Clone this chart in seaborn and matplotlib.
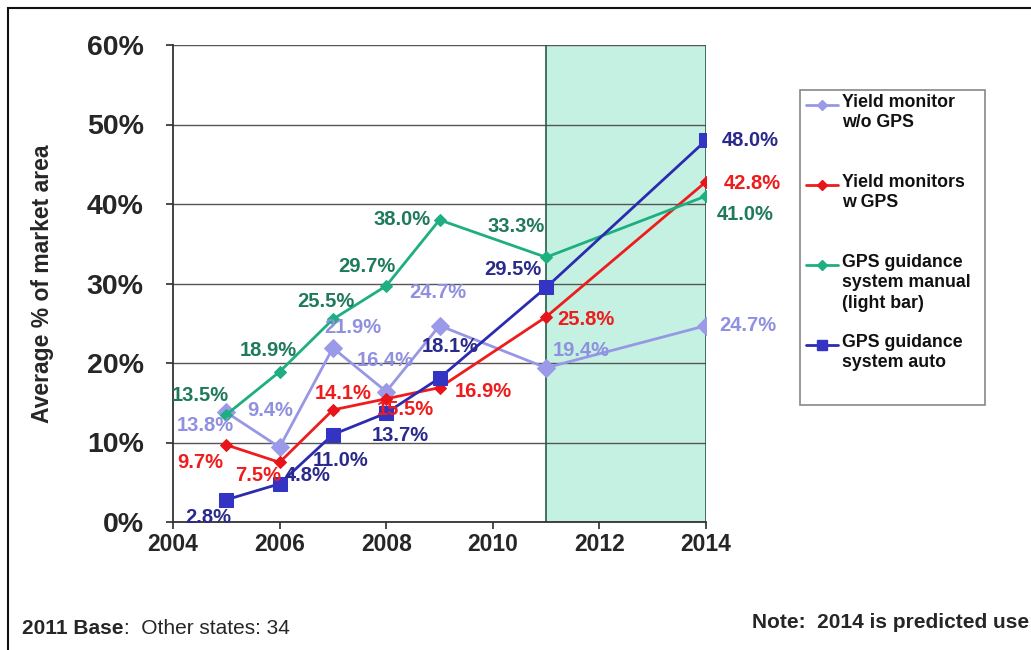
import matplotlib
matplotlib.use("Agg")
import matplotlib.pyplot as plt
import seaborn as sns
import pandas as pd
from matplotlib.patches import Rectangle
from matplotlib.lines import Line2D
from matplotlib.ticker import FuncFormatter

years = [2005, 2006, 2007, 2008, 2009, 2011, 2014]
series_names = ["Yield monitor\nw/o GPS", "Yield monitors\nw GPS",
                "GPS guidance\nsystem manual\n(light bar)", "GPS guidance\nsystem auto"]
yield_wo_gps = [13.8, 9.4, 21.9, 16.4, 24.7, 19.4, 24.7]
yield_w_gps = [9.7, 7.5, 14.1, 15.5, 16.9, 25.8, 42.8]
guidance_manual = [13.5, 18.9, 25.5, 29.7, 38.0, 33.3, 41.0]
guidance_auto = [2.8, 4.8, 11.0, 13.7, 18.1, 29.5, 48.0]
values = [yield_wo_gps, yield_w_gps, guidance_manual, guidance_auto]
x_ticks = [2004, 2006, 2008, 2010, 2012, 2014]
y_ticks = [0, 10, 20, 30, 40, 50, 60]

sns.set_theme(style="white")
plt.rcParams['font.family'] = ['Liberation Sans', 'DejaVu Sans']

line_colors = ["#9797e6", "#ee1c1c", "#1dae82", "#2b2bb0"]
marker_colors = ["#9a9ae8", "#e8141c", "#1dae82", "#3434c4"]
label_colors = ["#9090e0", "#ee1c1c", "#1f7a5c", "#2a2a8c"]
markers = ["D", "D", "D", "s"]
msizes = [9, 6, 6, 10]

# label offsets in pixels (dx, dy) per point
offsets = [
    [(-21, -13), (-9, 37), (20, 20), (-1, 31), (-2, 33), (35, 17), (42, 0)],
    [(-26, -18), (-21, -13), (10, 16), (19, -11), (44, -4), (40, -3), (46, -2)],
    [(-26, 19), (-11, 21), (-7, 18), (-19, 19), (-37, 0), (-30, 31), (39, -18)],
    [(-18, -18), (28, 8), (8, -26), (14, -22), (11, 32), (-33, 18), (44, 0)],
]

fig = plt.figure(figsize=(10.31, 6.5), dpi=100)
ax = fig.add_axes([173/1031, 1-522/650, (706-173)/1031, (522-45)/650])

# predicted region shading
ax.axvspan(2011, 2014, facecolor="#c4f1e2", edgecolor="none", zorder=0)
ax.axvline(2011, color="#2a5a48", lw=1.2, zorder=1)
ax.axvline(2014, color="#2a5a48", lw=1.2, zorder=1)

for i, name in enumerate(series_names):
    df = pd.DataFrame({"year": years, "val": values[i]})
    sns.lineplot(data=df, x="year", y="val", ax=ax, color=line_colors[i],
                 marker=markers[i], markersize=msizes[i], markerfacecolor=marker_colors[i],
                 markeredgecolor=marker_colors[i], lw=2, zorder=3 + i, legend=False)
    for j, (xv, yv) in enumerate(zip(years, values[i])):
        dx, dy = offsets[i][j]
        ax.annotate(f"{yv:.1f}%", (xv, yv), xytext=(dx, dy), textcoords="offset pixels",
                    ha="center", va="center", fontsize=14.5, fontweight="bold",
                    color=label_colors[i], zorder=10)

ax.set_xlim(2004, 2014)
ax.set_ylim(0, 60)
ax.set_xticks(x_ticks)
ax.set_yticks(y_ticks)
ax.yaxis.set_major_formatter(FuncFormatter(lambda v, p: f"{int(v)}%"))
ax.grid(axis="y", color="#555555", lw=1)
ax.set_axisbelow(True)
for s in ["top", "right"]:
    ax.spines[s].set_visible(False)
for s in ["left", "bottom"]:
    ax.spines[s].set_color("#333333")
    ax.spines[s].set_linewidth(1.3)
ax.tick_params(axis="y", labelsize=20.5, length=5, direction="out", left=True, color="#333333", pad=16)
ax.tick_params(axis="x", labelsize=16.5, length=5, direction="out", bottom=True, color="#333333", pad=3)
for t in ax.get_yticklabels() + ax.get_xticklabels():
    t.set_fontweight("bold")
ax.set_xlabel("")
ax.set_ylabel("Average % of market area", fontsize=16.5, fontweight="bold", labelpad=24)

# legend box (manual layout)
fig.add_artist(Rectangle((800/1031, 1-405/650), 185/1031, 315/650, transform=fig.transFigure,
                         fill=True, facecolor="white", edgecolor="#888888", lw=1.2))
leg_y = [105, 185, 265, 345]
for i, name in enumerate(series_names):
    yf = 1 - leg_y[i]/650
    fig.add_artist(Line2D([806/1031, 838/1031], [yf, yf], transform=fig.transFigure,
                          color=line_colors[i], lw=2))
    fig.add_artist(Line2D([822/1031], [yf], transform=fig.transFigure, lw=0,
                          marker=markers[i], markersize=5 if i != 3 else 7,
                          markerfacecolor=marker_colors[i], markeredgecolor=marker_colors[i]))
    fig.text(842/1031, 1 - (leg_y[i] - 11)/650, name, fontsize=12.8, fontweight="bold",
             va="top", ha="left", linespacing=1.25, color="#111111")

# outer border
fig.add_artist(Rectangle((8/1031, -0.1), 1.2, 1.1 - 8/650, transform=fig.transFigure,
                         fill=False, edgecolor="#111111", lw=1.5))

narrow = ['Liberation Sans Narrow', 'Liberation Sans', 'DejaVu Sans']
t1 = fig.text(22/1031, 1-628/650, "2011 Base", fontsize=15, fontweight="bold", family=narrow, va="center")
fig.add_artist(plt.Annotation(":  Other states: 34", xy=(1, 0.5), xycoords=t1, va="center",
                              ha="left", fontsize=15, family=narrow))
fig.text(1029/1031, 1-622/650, "Note:  2014 is predicted use", fontsize=15, fontweight="bold",
         family=narrow, va="center", ha="right")

fig.savefig("out.png", dpi=100)
